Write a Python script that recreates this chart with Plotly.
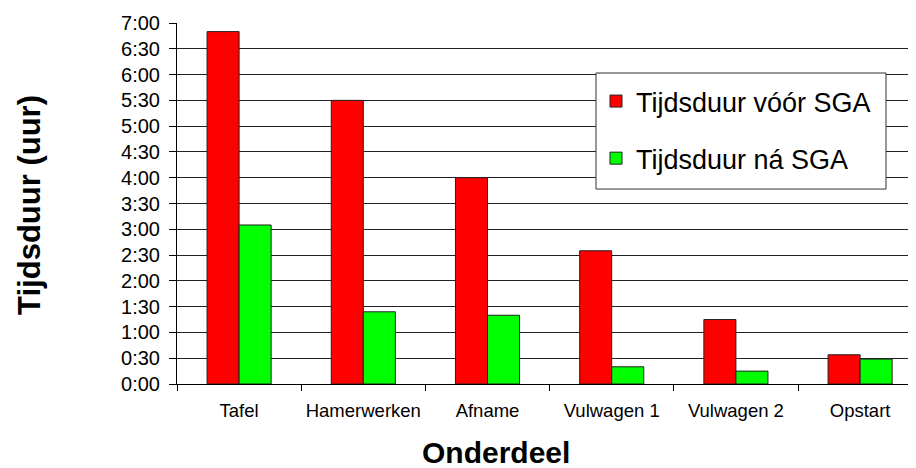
import plotly.graph_objects as go

categories = ["Tafel", "Hamerwerken", "Afname", "Vulwagen 1", "Vulwagen 2", "Opstart"]
voor_min = [410, 330, 240, 155, 75, 34]
na_min = [185, 84, 80, 20, 15, 29]
tick_vals = list(range(0, 421, 30))
tick_text = [f"{v // 60}:{v % 60:02d}" for v in tick_vals]

fig = go.Figure()
fig.add_trace(go.Bar(x=categories, y=voor_min, name="Tijdsduur vóór SGA",
                     marker=dict(color="#FF0000", line=dict(color="#222222", width=1)),
                     legendgroup="a"))
fig.add_trace(go.Bar(x=categories, y=na_min, name="Tijdsduur ná SGA",
                     marker=dict(color="#00FF00", line=dict(color="#222222", width=1)),
                     legendgroup="b"))

fig.update_layout(
    width=908, height=460,
    margin=dict(l=169, r=0, t=15, b=84, autoexpand=False),
    paper_bgcolor="white", plot_bgcolor="white",
    barmode="group", bargap=0.484, bargroupgap=0,
    font=dict(family="Liberation Sans, Arial, sans-serif", color="black"),
    showlegend=True,
    legend=dict(x=0.567, y=0.8504, xanchor="left", yanchor="top",
                bgcolor="rgba(0,0,0,0)", borderwidth=0,
                font=dict(size=27), tracegroupgap=19, traceorder="grouped"),
    shapes=[dict(type="rect", xref="paper", yref="paper",
                 x0=0.567, x1=0.9594, y0=0.540, y1=0.8615, layer="above",
                 fillcolor="white", line=dict(color="#333333", width=1))],
    xaxis=dict(type="category", range=[-0.5, 5.45], showline=True, linecolor="black",
               linewidth=1, ticks="outside", tickson="boundaries", ticklen=6,
               tickcolor="black", tickfont=dict(size=18.5), showgrid=False,
               ticklabelstandoff=10, automargin=False),
    yaxis=dict(range=[0, 420], tickvals=tick_vals, ticktext=tick_text,
               showline=True, linecolor="black", linewidth=1, ticks="outside",
               ticklen=7, tickcolor="black", tickfont=dict(size=20),
               ticklabelstandoff=5,
               showgrid=True, gridcolor="#222222", gridwidth=1, zeroline=False,
               automargin=False),
    annotations=[
        dict(text="<b>Tijdsduur (uur)</b>", xref="paper", yref="paper",
             x=-0.199, y=0.496, xanchor="center", yanchor="middle",
             textangle=-90, showarrow=False, font=dict(size=31)),
        dict(text="<b>Onderdeel</b>", xref="paper", yref="paper",
             x=0.4317, y=-0.191, xanchor="center", yanchor="middle",
             showarrow=False, font=dict(size=30)),
    ],
)

fig.write_html("out.html")
